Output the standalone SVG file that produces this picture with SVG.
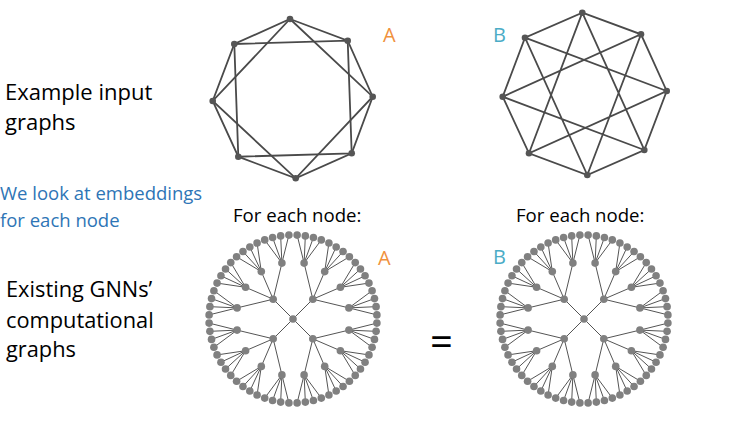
<svg xmlns="http://www.w3.org/2000/svg" xmlns:xlink="http://www.w3.org/1999/xlink" width="742" height="422" viewBox="0 0 742 422">
<style>
.lbl{font-family:"Open Sans","Liberation Sans",sans-serif;fill:#000}
.blue{font-family:"Open Sans","Liberation Sans",sans-serif;fill:#2E75B6}
.la{font-family:"Open Sans","Liberation Sans",sans-serif;fill:#F0913D;font-size:20px}
.lb{font-family:"Open Sans","Liberation Sans",sans-serif;fill:#4BACC6;font-size:20px}
.ge{stroke:#4a4a4a;stroke-width:1.8;fill:none;stroke-linecap:round}
.gn{fill:#555;stroke:none}
.te{stroke:#555;stroke-width:1;fill:none}
.tn{fill:#808080;stroke:none}
</style>
<defs>
<g id="q">
<path class="te" d="M0,0L19.8,19.8 M19.8,19.8L55.9,11.1 M19.8,19.8L47.4,31.7 M19.8,19.8L31.7,47.4 M19.8,19.8L11.1,55.9
M55.9,11.1L83.9,4.12 M55.9,11.1L83.09,12.33 M55.9,11.1L81.48,20.41 M55.9,11.1L79.09,28.3
M47.4,31.7L75.94,35.91 M47.4,31.7L72.05,43.18 M47.4,31.7L67.47,50.04 M47.4,31.7L62.24,56.41
M31.7,47.4L56.41,62.24 M31.7,47.4L50.04,67.47 M31.7,47.4L43.18,72.05 M31.7,47.4L35.91,75.94
M11.1,55.9L28.3,79.09 M11.1,55.9L20.41,81.48 M11.1,55.9L12.33,83.09 M11.1,55.9L4.12,83.9"/>
<g class="tn">
<circle cx="19.8" cy="19.8" r="3.8"/>
<circle cx="55.9" cy="11.1" r="3.8"/><circle cx="47.4" cy="31.7" r="3.8"/><circle cx="31.7" cy="47.4" r="3.8"/><circle cx="11.1" cy="55.9" r="3.8"/>
<circle cx="83.9" cy="4.12" r="3.8"/><circle cx="83.09" cy="12.33" r="3.8"/><circle cx="81.48" cy="20.41" r="3.8"/><circle cx="79.09" cy="28.3" r="3.8"/>
<circle cx="75.94" cy="35.91" r="3.8"/><circle cx="72.05" cy="43.18" r="3.8"/><circle cx="67.47" cy="50.04" r="3.8"/><circle cx="62.24" cy="56.41" r="3.8"/>
<circle cx="56.41" cy="62.24" r="3.8"/><circle cx="50.04" cy="67.47" r="3.8"/><circle cx="43.18" cy="72.05" r="3.8"/><circle cx="35.91" cy="75.94" r="3.8"/>
<circle cx="28.3" cy="79.09" r="3.8"/><circle cx="20.41" cy="81.48" r="3.8"/><circle cx="12.33" cy="83.09" r="3.8"/><circle cx="4.12" cy="83.9" r="3.8"/>
</g>
</g>
<g id="tree">
<use xlink:href="#q"/>
<use xlink:href="#q" transform="scale(-1,1)"/>
<use xlink:href="#q" transform="scale(1,-1)"/>
<use xlink:href="#q" transform="scale(-1,-1)"/>
<circle class="tn" cx="0" cy="0" r="3.8"/>
</g>
</defs>

<g id="text-left">
<text class="lbl" font-size="22" x="5" y="100">Example input</text>
<text class="lbl" font-size="22" x="5" y="130">graphs</text>
<text class="blue" font-size="18.5" x="0" y="200">We look at embeddings</text>
<text class="blue" font-size="18.5" x="0" y="227">for each node</text>
<text class="lbl" font-size="21.8" x="6" y="297">Existing GNNs’</text>
<text class="lbl" font-size="21.8" x="6" y="328">computational</text>
<text class="lbl" font-size="21.8" x="6" y="357">graphs</text>
</g>

<g id="graphA">
<g id="graphA-edges">
<path class="ge" d="M290,19L347.7,40.7L372.7,96.7L351.7,153.3L295.7,178.3L238.3,156.7L212.7,101L234.3,44Z"/>
<path class="ge" d="M234.3,44L347.7,40.7L351.7,153.3L238.3,156.7Z"/>
<path class="ge" d="M290,19L372.7,96.7L295.7,178.3L212.7,101Z"/>
</g>
<g id="graphA-nodes" class="gn">
<circle id="A1" cx="290" cy="19" r="3.3"/>
<circle id="A2" cx="347.7" cy="40.7" r="3.3"/>
<circle id="A3" cx="372.7" cy="96.7" r="3.3"/>
<circle id="A4" cx="351.7" cy="153.3" r="3.3"/>
<circle id="A5" cx="295.7" cy="178.3" r="3.3"/>
<circle id="A6" cx="238.3" cy="156.7" r="3.3"/>
<circle id="A7" cx="212.7" cy="101" r="3.3"/>
<circle id="A8" cx="234.3" cy="44" r="3.3"/>
</g>
<text class="la" x="383" y="42">A</text>
</g>

<g id="graphB">
<g id="graphB-edges">
<path class="ge" d="M582.3,12.7L641,34.3L666.7,91L644.3,150L587.3,175L529,153.3L502.7,96.7L525,37.7Z"/>
<path class="ge" d="M582.3,12.7L644.3,150L502.7,96.7L641,34.3L587.3,175L525,37.7L666.7,91L529,153.3Z"/>
</g>
<g id="graphB-nodes" class="gn">
<circle id="B1" cx="582.3" cy="12.7" r="3.3"/>
<circle id="B2" cx="641" cy="34.3" r="3.3"/>
<circle id="B3" cx="666.7" cy="91" r="3.3"/>
<circle id="B4" cx="644.3" cy="150" r="3.3"/>
<circle id="B5" cx="587.3" cy="175" r="3.3"/>
<circle id="B6" cx="529" cy="153.3" r="3.3"/>
<circle id="B7" cx="502.7" cy="96.7" r="3.3"/>
<circle id="B8" cx="525" cy="37.7" r="3.3"/>
</g>
<text class="lb" x="493" y="42">B</text>
</g>

<g id="treeA">
<text class="lbl" font-size="18.6" x="233" y="222">For each node:</text>
<use xlink:href="#tree" x="293" y="319"/>
<text class="la" x="378" y="265">A</text>
</g>

<g id="equals">
<text class="lbl" font-size="40" x="430" y="356">=</text>
</g>

<g id="treeB">
<text class="lbl" font-size="18.6" x="516" y="222">For each node:</text>
<use xlink:href="#tree" x="584" y="319"/>
<text class="lb" x="493" y="264">B</text>
</g>
</svg>
